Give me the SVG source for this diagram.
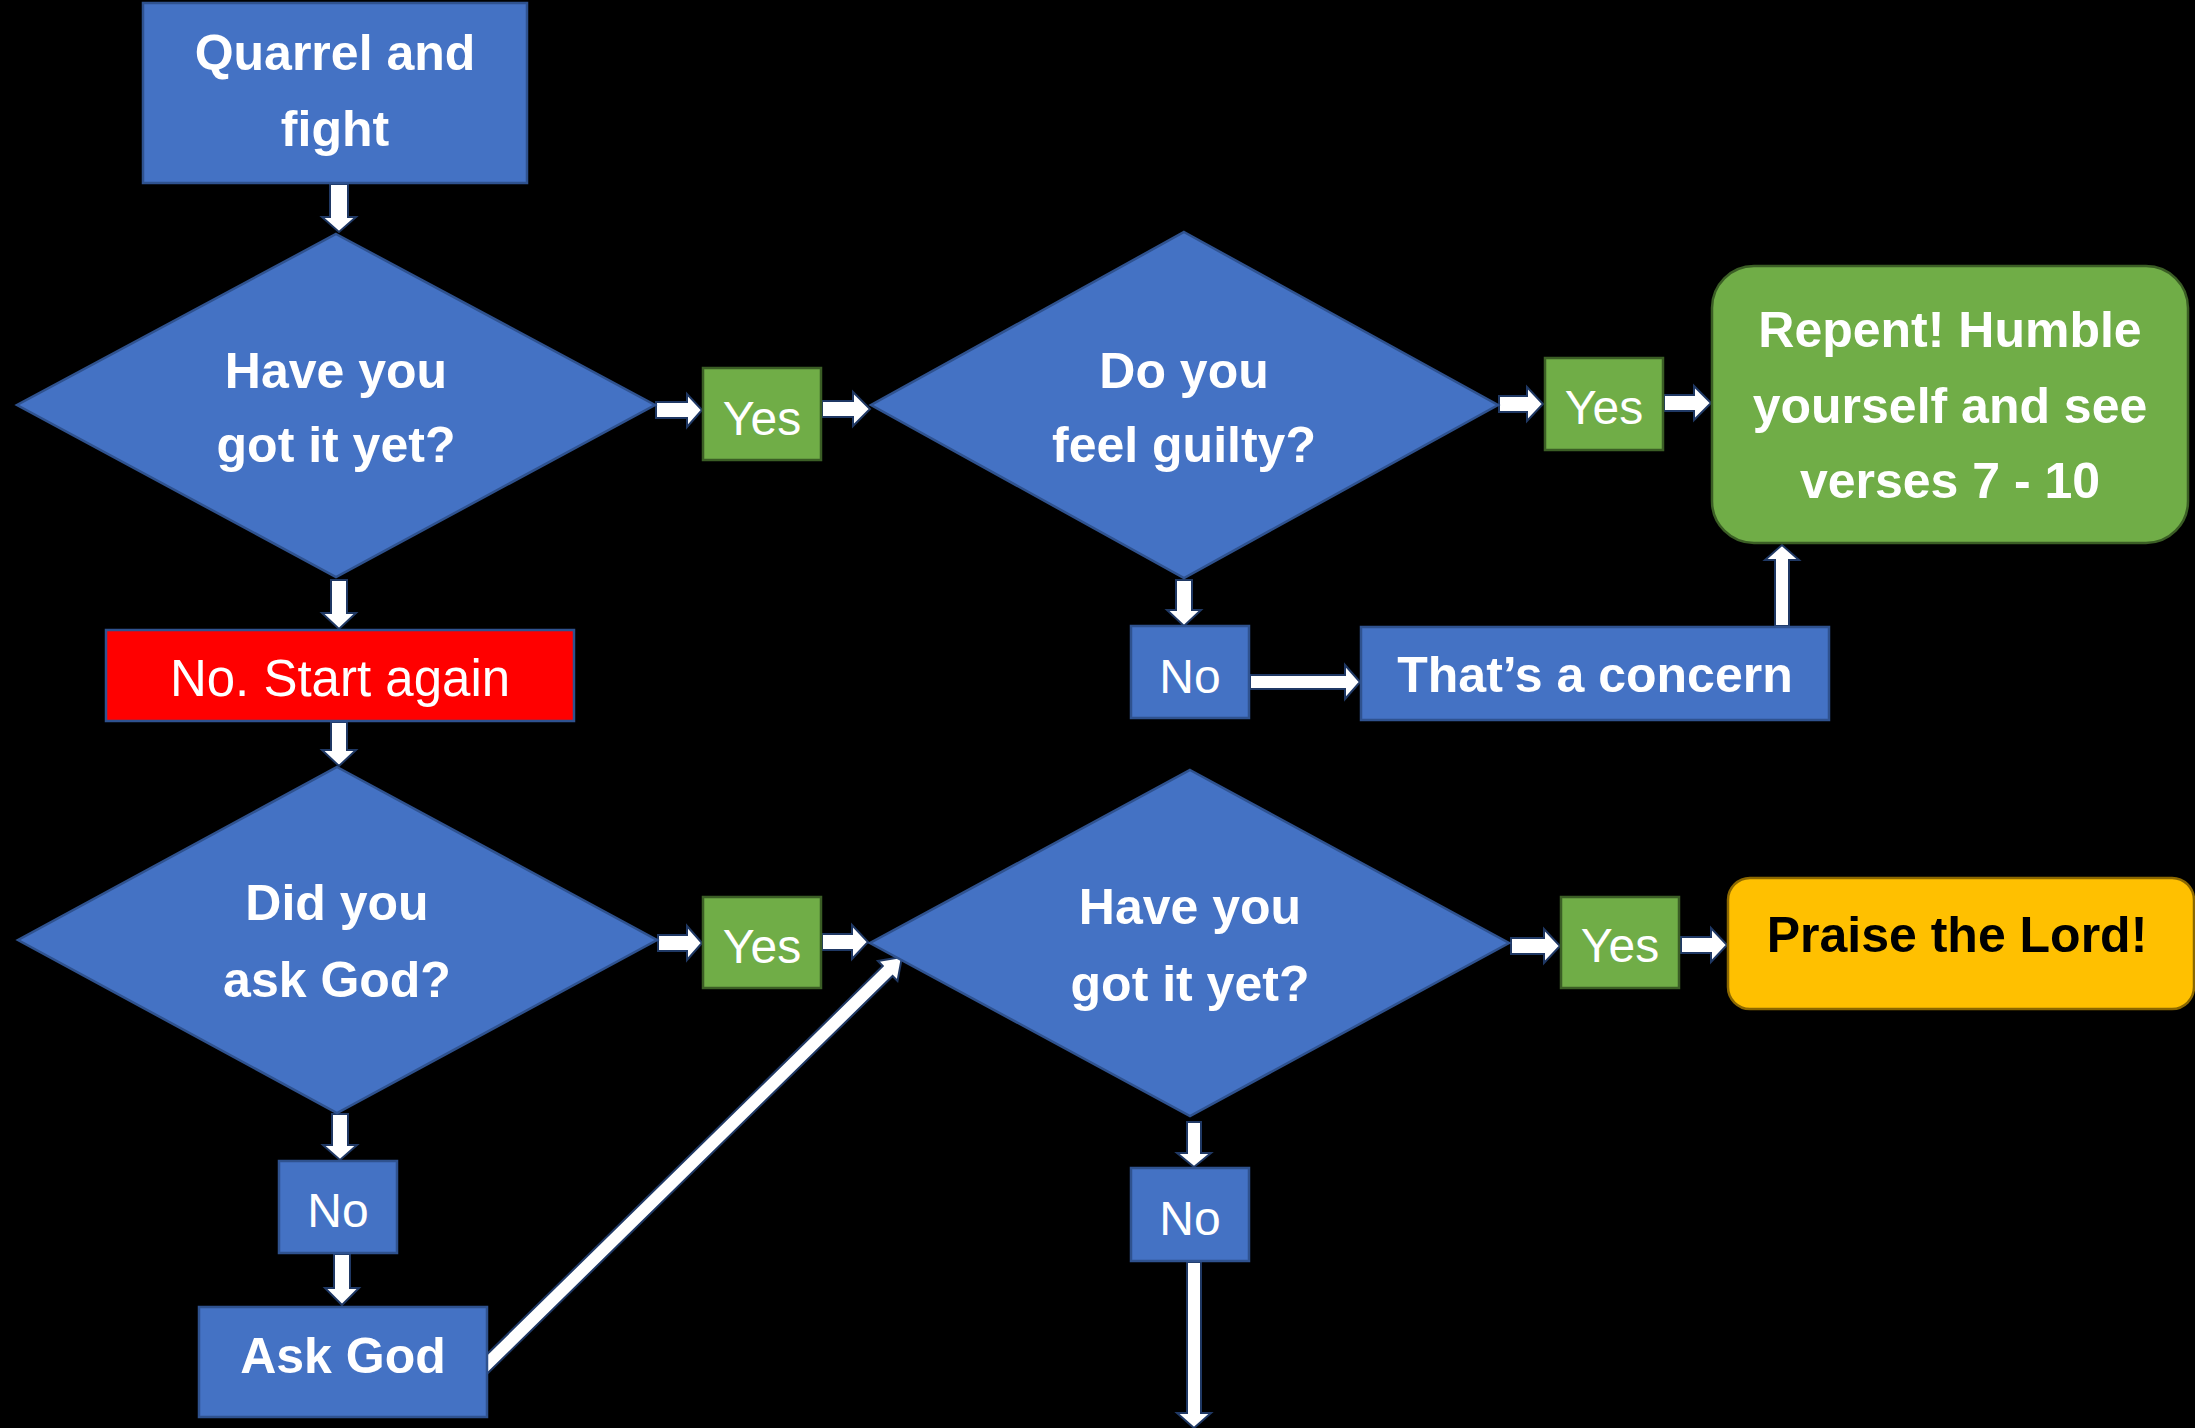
<svg xmlns="http://www.w3.org/2000/svg" width="2195" height="1428" viewBox="0 0 2195 1428">
<style>
.blue{fill:#4472C4;stroke:#2F528F;stroke-width:2.5}
.green{fill:#70AD47;stroke:#3B5E25;stroke-width:2.5}
.red{fill:#FF0000;stroke:#2F528F;stroke-width:2.5}
.gold{fill:#FFC000;stroke:#8C6800;stroke-width:2.5}
.arr{fill:#FFFFFF;stroke:#1F3864;stroke-width:2;stroke-linejoin:miter}
.b{font-family:"Liberation Sans",Arial,sans-serif;font-weight:bold;font-size:50px;fill:#FFFFFF;text-anchor:middle}
.r{font-family:"Liberation Sans",Arial,sans-serif;font-size:48px;fill:#FFFFFF;text-anchor:middle}
.dk{fill:#000000}
</style>
<rect width="2195" height="1428" fill="#000000"/>
<g id="connectors">
<polygon class="arr" points="330,184 348,184 348,217 356,217 339,232 322,217 330,217"/>
<polygon class="arr" points="656,402 687,402 687,394 702,410 687,427 687,418 656,418"/>
<polygon class="arr" points="822,401 853,401 853,392 870,409 853,426 853,417 822,417"/>
<polygon class="arr" points="1499,396 1527,396 1527,387 1543,404 1527,421 1527,412 1499,412"/>
<polygon class="arr" points="1664,395 1694,395 1694,386 1711,403 1694,420 1694,411 1664,411"/>
<polygon class="arr" points="1176,580 1192,580 1192,610 1201,610 1184,626 1167,610 1176,610"/>
<polygon class="arr" points="1250,675 1345,675 1345,665 1360,682 1345,699 1345,689 1250,689"/>
<polygon class="arr" points="1775,626 1789,626 1789,560 1799,560 1782,545 1765,560 1775,560"/>
<polygon class="arr" points="331,580 347,580 347,613 356,613 339,629 322,613 331,613"/>
<polygon class="arr" points="331,722 347,722 347,750 356,750 339,766 322,750 331,750"/>
<polygon class="arr" points="658,935 687,935 687,926 702,943 687,960 687,951 658,951"/>
<polygon class="arr" points="822,934 852,934 852,925 868,942 852,959 852,950 822,950"/>
<polygon class="arr" points="332,1114 348,1114 348,1145 357,1145 340,1160 323,1145 332,1145"/>
<polygon class="arr" points="334,1254 350,1254 350,1288 359,1288 342,1305 325,1288 334,1288"/>
<polygon class="arr" points="477.1,1364 882.8,966 877.9,961 902,957 897.5,981 892.6,976 486.9,1374"/>
<polygon class="arr" points="1511,938 1544,938 1544,929 1560,946 1544,963 1544,954 1511,954"/>
<polygon class="arr" points="1681,937 1711,937 1711,928 1727,945 1711,962 1711,953 1681,953"/>
<polygon class="arr" points="1187,1122 1201,1122 1201,1153 1211,1153 1194,1167 1177,1153 1187,1153"/>
<polygon class="arr" points="1187,1262 1201,1262 1201,1413 1211,1413 1194,1428 1177,1413 1187,1413"/>
</g>
<g id="n-quarrel">
<rect class="blue" x="143" y="3" width="384" height="180"/>
<text class="b" x="335" y="70">Quarrel and</text>
<text class="b" x="335" y="146">fight</text>
</g>
<g id="n-d1">
<polygon class="blue" points="336,234 655,405 336,577 17,405"/>
<text class="b" x="336" y="388">Have you</text>
<text class="b" x="336" y="462">got it yet?</text>
</g>
<g id="n-yes1">
<rect class="green" x="703" y="368" width="118" height="92"/>
<text class="r" x="762" y="435">Yes</text>
</g>
<g id="n-d2">
<polygon class="blue" points="1184,232 1498,405 1184,578 871,405"/>
<text class="b" x="1184" y="388">Do you</text>
<text class="b" x="1184" y="462">feel guilty?</text>
</g>
<g id="n-yes2">
<rect class="green" x="1545" y="358" width="118" height="92"/>
<text class="r" x="1604" y="424">Yes</text>
</g>
<g id="n-repent">
<rect class="green" x="1712" y="266" width="476" height="277" rx="42" ry="42"/>
<text class="b" x="1950" y="347">Repent! Humble</text>
<text class="b" x="1950" y="423">yourself and see</text>
<text class="b" x="1950" y="498">verses 7 - 10</text>
</g>
<g id="n-no1">
<rect class="blue" x="1131" y="626" width="118" height="92"/>
<text class="r" x="1190" y="693">No</text>
</g>
<g id="n-concern">
<rect class="blue" x="1361" y="627" width="468" height="93"/>
<text class="b" x="1595" y="692">That’s a concern</text>
</g>
<g id="n-start">
<rect class="red" x="106" y="630" width="468" height="91"/>
<text class="r" x="340" y="696" style="font-size:51px">No. Start again</text>
</g>
<g id="n-d3">
<polygon class="blue" points="337,767 657,940 337,1113 18,940"/>
<text class="b" x="337" y="920">Did you</text>
<text class="b" x="337" y="997">ask God?</text>
</g>
<g id="n-yes3">
<rect class="green" x="703" y="897" width="118" height="91"/>
<text class="r" x="762" y="963">Yes</text>
</g>
<g id="n-d4">
<polygon class="blue" points="1190,770 1509,943 1190,1116 870,943"/>
<text class="b" x="1190" y="924">Have you</text>
<text class="b" x="1190" y="1001">got it yet?</text>
</g>
<g id="n-yes4">
<rect class="green" x="1561" y="897" width="118" height="91"/>
<text class="r" x="1620" y="962">Yes</text>
</g>
<g id="n-praise">
<rect class="gold" x="1728" y="878" width="466" height="131" rx="22" ry="22"/>
<text class="b dk" x="1957" y="952">Praise the Lord!</text>
</g>
<g id="n-no2">
<rect class="blue" x="279" y="1161" width="118" height="92"/>
<text class="r" x="338" y="1227">No</text>
</g>
<g id="n-askgod">
<rect class="blue" x="199" y="1307" width="288" height="110"/>
<text class="b" x="343" y="1373">Ask God</text>
</g>
<g id="n-no3">
<rect class="blue" x="1131" y="1168" width="118" height="93"/>
<text class="r" x="1190" y="1235">No</text>
</g>
</svg>
